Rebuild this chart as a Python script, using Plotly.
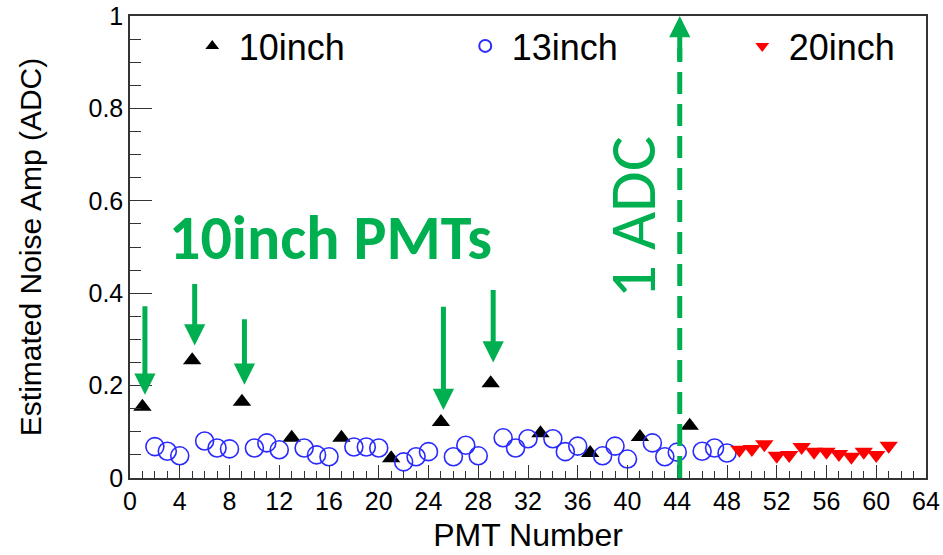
import plotly.graph_objects as go

# ---- data ----
x_10 = [1, 5, 9, 13, 17, 21, 25, 29, 33, 37, 41, 45]
y_10 = [0.154, 0.255, 0.165, 0.087, 0.087, 0.043, 0.121, 0.205, 0.097, 0.054, 0.089, 0.113]

x_13 = [2, 3, 4, 6, 7, 8, 10, 11, 12, 14, 15, 16, 18, 19, 20, 22, 23, 24, 26, 27, 28,
        30, 31, 32, 34, 35, 36, 38, 39, 40, 42, 43, 44, 46, 47, 48]
y_13 = [0.068, 0.058, 0.048, 0.080, 0.065, 0.063, 0.065, 0.076, 0.061, 0.065, 0.050, 0.046,
        0.067, 0.067, 0.065, 0.035, 0.046, 0.057, 0.046, 0.071, 0.048, 0.087, 0.065, 0.085,
        0.085, 0.057, 0.069, 0.048, 0.069, 0.041, 0.076, 0.046, 0.056, 0.058, 0.065, 0.054]

x_20 = [49, 50, 51, 52, 53, 54, 55, 56, 57, 58, 59, 60, 61]
y_20 = [0.061, 0.063, 0.073, 0.048, 0.050, 0.067, 0.057, 0.057, 0.052, 0.046, 0.057, 0.050, 0.070]

highlight_pmts = [1, 5, 9, 25, 29]
x_ticks = list(range(0, 65, 4))
y_ticks = [0, 0.2, 0.4, 0.6, 0.8, 1]
y_tick_text = ["0", "0.2", "0.4", "0.6", "0.8", "1"]
adc_line_x = 44.2

GREEN = "#00b050"
FONT = "Liberation Sans, Arial, sans-serif"

# arrow styling: (gap above point, arrow length) in y units
arrow_style = {1: (0.026, 0.195), 5: (0.032, 0.136), 9: (0.037, 0.145),
               25: (0.026, 0.227), 29: (0.045, 0.16)}

fig = go.Figure()
fig.add_trace(go.Scatter(x=x_10, y=y_10, mode="markers", name="10inch", legend="legend",
                         marker=dict(symbol="triangle-up", size=16, color="black")))
fig.add_trace(go.Scatter(x=x_13, y=y_13, mode="markers", name="13inch", legend="legend2",
                         marker=dict(symbol="circle-open", size=18, color="#2a2aff",
                                     line=dict(width=1.6, color="#2a2aff"))))
fig.add_trace(go.Scatter(x=x_20, y=y_20, mode="markers", name="20inch", legend="legend3",
                         marker=dict(symbol="triangle-down", size=16, color="red")))

# green arrows pointing at highlighted 10inch PMTs
for xv, yv in zip(x_10, y_10):
    if xv in highlight_pmts:
        gap, length = arrow_style[xv]
        tip = yv + gap
        fig.add_annotation(x=xv + 0.2, y=tip, ax=xv + 0.2, ay=tip + length,
                           xref="x", yref="y", axref="x", ayref="y",
                           showarrow=True, arrowhead=2, arrowsize=0.85, arrowwidth=5,
                           arrowcolor=GREEN, text="")

# dashed vertical "1 ADC" line with arrowhead
fig.add_shape(type="line", x0=adc_line_x, x1=adc_line_x, y0=0, y1=0.93, xref="x", yref="y",
              line=dict(color=GREEN, width=5, dash="22px,10px"))
fig.add_annotation(x=adc_line_x, y=1.0, ax=adc_line_x, ay=0.90, xref="x", yref="y",
                   axref="x", ayref="y", showarrow=True, arrowhead=2, arrowsize=0.85,
                   arrowwidth=5, arrowcolor=GREEN, text="")

fig.add_annotation(x=16.1, y=0.52, xref="x", yref="y", text="<b>10inch PMTs</b>",
                   showarrow=False, font=dict(family="Carlito, " + FONT, size=62, color=GREEN))
fig.add_annotation(x=40.4, y=0.565, xref="x", yref="y", text="1 ADC", textangle=-90,
                   showarrow=False, font=dict(family="Carlito, " + FONT, size=66, color=GREEN))

def legend_at(xpos):
    return dict(orientation="h", x=xpos, y=1.0, xanchor="left", yanchor="top",
                font=dict(size=36, family=FONT), bgcolor="rgba(0,0,0,0)",
                itemwidth=43, itemsizing="constant")

fig.update_layout(
    width=943, height=555,
    margin=dict(l=130, r=17, t=16, b=77, autoexpand=False),
    paper_bgcolor="white", plot_bgcolor="white",
    font=dict(family=FONT, color="black"),
    showlegend=True,
    legend=legend_at(0.07),
    legend2=legend_at(0.413),
    legend3=legend_at(0.761),
    xaxis=dict(range=[0, 64], tickvals=x_ticks, ticks="inside", ticklen=13, tickwidth=1.2,
               tickcolor="#333", showline=True, linecolor="#333", linewidth=1.5, mirror=True,
               showgrid=False, zeroline=False, tickfont=dict(size=25), automargin=False,
               minor=dict(dtick=1, ticks="inside", ticklen=7, tickcolor="#333"),
               title=dict(text="PMT Number", font=dict(size=32), standoff=10)),
    yaxis=dict(range=[0, 1], tickvals=y_ticks, ticktext=y_tick_text, ticks="inside",
               ticklen=22, tickwidth=1.2, tickcolor="#333", showline=True, linecolor="#333",
               linewidth=1.5, mirror=True, showgrid=False, zeroline=False,
               tickfont=dict(size=25), automargin=False,
               minor=dict(dtick=0.05, ticks="inside", ticklen=11, tickcolor="#333"),
               title=dict(text="Estimated Noise Amp (ADC)", font=dict(size=30), standoff=38)),
)

fig.write_html("out.html")
